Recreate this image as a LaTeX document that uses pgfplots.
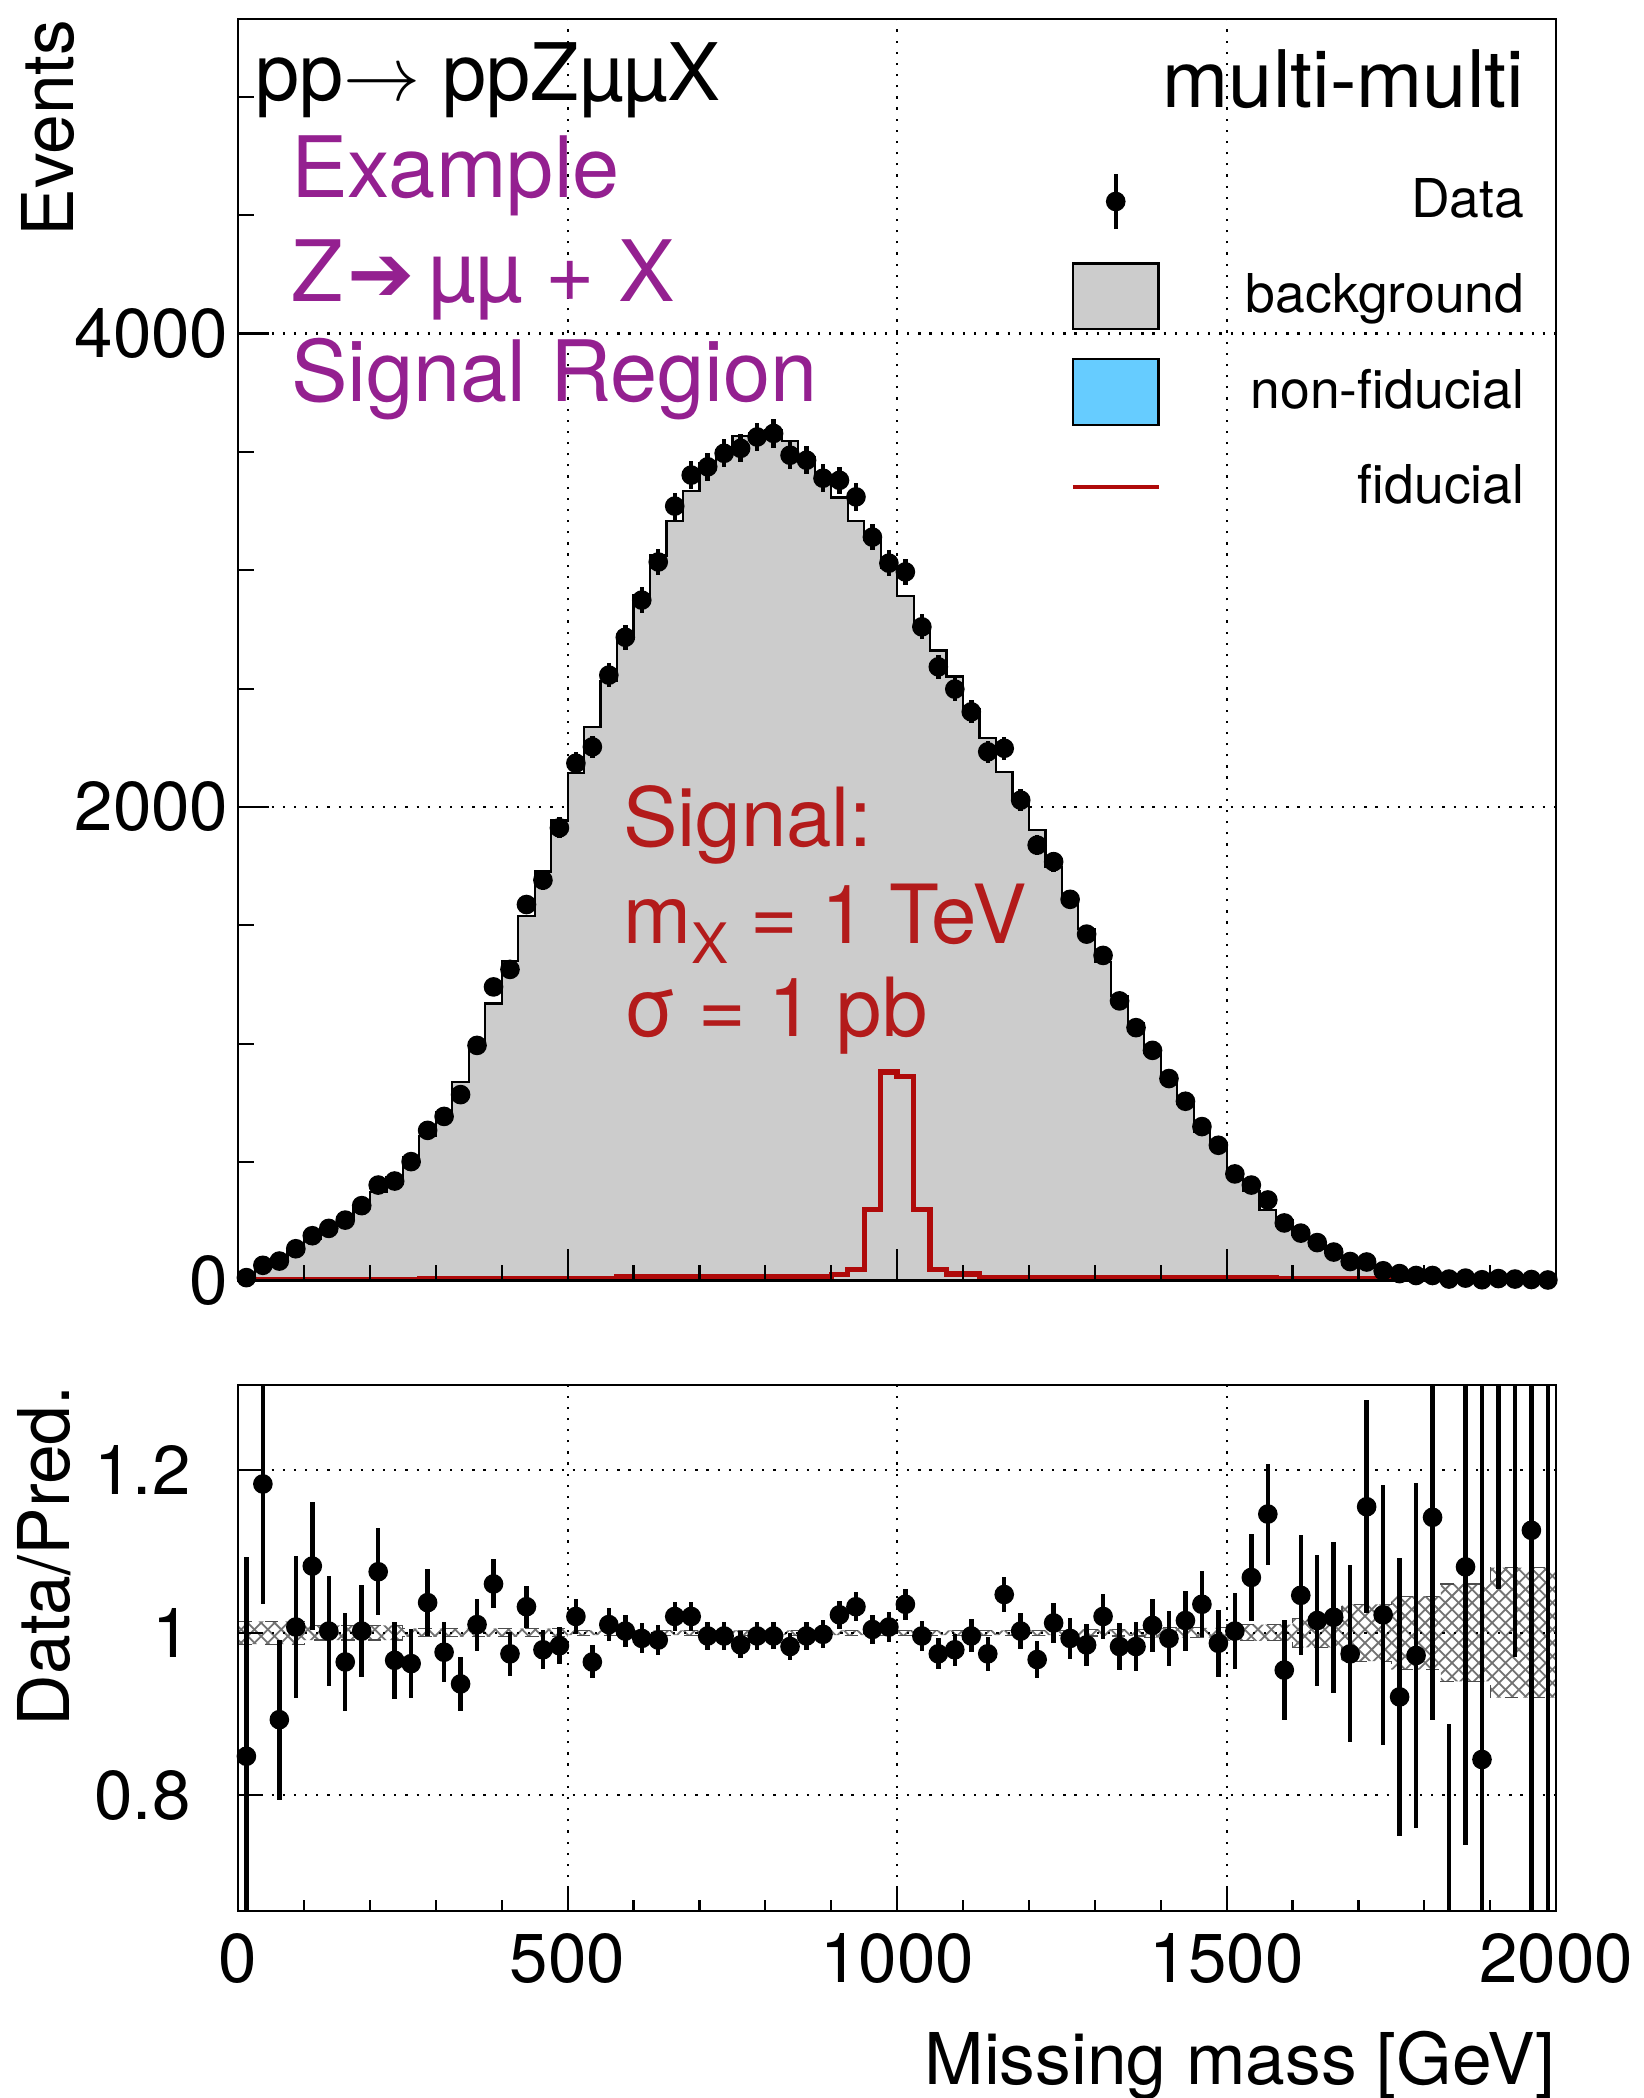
\documentclass[border=0pt]{standalone}
\usepackage{fontspec}
\setmainfont{TeX Gyre Heros}
\newfontfamily\dejavu{DejaVu Sans}
\usepackage{pgfplots}
\pgfplotsset{compat=1.18}
\usepackage{pgfplotstable}
\usepgfplotslibrary{fillbetween}
\usetikzlibrary{patterns}

\definecolor{bggray}{RGB}{204,204,204}
\definecolor{nfblue}{RGB}{102,204,255}
\definecolor{fidred}{RGB}{175,10,10}
\definecolor{sigred}{RGB}{179,27,27}
\definecolor{txtpurple}{RGB}{148,32,144}
\newcommand{\fs}[1]{\fontsize{#1}{#1}\selectfont}

% lo = lower bin edge, c = bin centre, n = data, b = background,
% r = data/pred, u = rel. MC uncertainty, s = fiducial signal, nf = non-fiducial
\pgfplotstableread{
lo c n b r u s nf
0 12.5 12 14.1 0.848 0.014 3 0
25 37.5 64 54.1 1.183 0.014 3 0
50 62.5 82 91.8 0.893 0.014 3 0
75 87.5 134 133.1 1.007 0.014 3 0
100 112.5 189 174.7 1.082 0.009 3 0
125 137.5 220 219.6 1.002 0.009 3 0
150 162.5 255 264.5 0.964 0.009 3 0
175 187.5 316 315.4 1.002 0.009 3 0
200 212.5 403 374.9 1.075 0.009 3 0
225 237.5 420 434.8 0.966 0.009 3 0
250 262.5 502 521.8 0.962 0.005 3 0
275 287.5 634 611.4 1.037 0.005 6 0
300 312.5 693 710.0 0.976 0.005 6 0
325 337.5 785 837.8 0.937 0.005 6 0
350 362.5 993 983.2 1.010 0.005 6 0
375 387.5 1240 1169.8 1.060 0.005 6 0
400 412.5 1314 1349.1 0.974 0.005 6 0
425 437.5 1588 1538.8 1.032 0.005 6 0
450 462.5 1691 1727.3 0.979 0.005 6 0
475 487.5 1912 1943.1 0.984 0.005 6 0
500 512.5 2185 2142.2 1.020 0.003 6 0
525 537.5 2254 2338.2 0.964 0.003 6 0
550 562.5 2557 2531.7 1.010 0.003 6 0
575 587.5 2717 2711.6 1.002 0.003 15 3
600 612.5 2874 2894.3 0.993 0.003 15 3
625 637.5 3035 3062.6 0.991 0.003 15 3
650 662.5 3271 3206.9 1.020 0.003 15 3
675 687.5 3402 3335.3 1.020 0.003 15 3
700 712.5 3437 3450.8 0.996 0.003 15 3
725 737.5 3494 3508.0 0.996 0.003 15 3
750 762.5 3515 3568.5 0.985 0.003 15 3
775 787.5 3563 3577.3 0.996 0.003 15 3
800 812.5 3578 3592.4 0.996 0.003 15 3
825 837.5 3486 3546.3 0.983 0.003 15 3
850 862.5 3465 3478.9 0.996 0.003 15 3
875 887.5 3389 3395.8 0.998 0.003 15 3
900 912.5 3380 3307.2 1.022 0.003 25 0
925 937.5 3310 3207.4 1.032 0.003 45 0
950 962.5 3140 3127.5 1.004 0.003 300 0
975 987.5 3030 3008.9 1.007 0.003 880 0
1000 1012.5 2993 2891.8 1.035 0.003 862 0
1025 1037.5 2761 2772.1 0.996 0.003 300 0
1050 1062.5 2592 2661.2 0.974 0.003 45 0
1075 1087.5 2498 2551.6 0.979 0.003 28 0
1100 1112.5 2402 2411.6 0.996 0.003 28 0
1125 1137.5 2233 2292.6 0.974 0.003 13 0
1150 1162.5 2248 2147.1 1.047 0.003 13 0
1175 1187.5 2029 2024.9 1.002 0.003 13 0
1200 1212.5 1839 1901.8 0.967 0.003 13 0
1225 1237.5 1769 1748.0 1.012 0.003 13 0
1250 1262.5 1610 1621.3 0.993 0.003 13 0
1275 1287.5 1463 1485.3 0.985 0.004 13 0
1300 1312.5 1373 1346.1 1.020 0.004 13 0
1325 1337.5 1181 1201.4 0.983 0.004 13 0
1350 1362.5 1068 1086.5 0.983 0.004 13 0
1375 1387.5 972 963.3 1.009 0.006 13 0
1400 1412.5 853 859.0 0.993 0.006 13 0
1425 1437.5 757 745.8 1.015 0.006 13 0
1450 1462.5 650 628.0 1.035 0.006 13 0
1475 1487.5 571 578.5 0.987 0.006 13 0
1500 1512.5 450 449.1 1.002 0.010 13 0
1525 1537.5 403 377.3 1.068 0.010 13 0
1550 1562.5 340 296.7 1.146 0.010 13 0
1575 1587.5 243 254.7 0.954 0.010 6 0
1600 1612.5 200 191.2 1.046 0.018 6 0
1625 1637.5 160 157.6 1.015 0.018 6 0
1650 1662.5 120 117.8 1.019 0.018 6 0
1675 1687.5 80 82.1 0.974 0.035 6 0
1700 1712.5 78 67.5 1.155 0.035 6 0
1725 1737.5 41 40.1 1.022 0.035 6 0
1750 1762.5 29 31.5 0.921 0.045 6 0
1775 1787.5 21 21.6 0.972 0.045 0 0
1800 1812.5 21 18.4 1.142 0.045 0 0
1825 1837.5 6 9.5 0.630 0.060 0 0
1850 1862.5 10 9.25 1.081 0.060 0 0
1875 1887.5 3 3.55 0.844 0.060 0 0
1900 1912.5 8 4.9 1.630 0.080 0 0
1925 1937.5 6 3.66 1.640 0.080 0 0
1950 1962.5 4 3.55 1.126 0.080 0 0
1975 1987.5 2 1.33 1.500 0.080 0 0
2000 nan nan 1.33 nan 0.080 0 0
}\hist

\begin{document}
\begin{tikzpicture}
% ---------------- main panel ----------------
\begin{axis}[
    at={(0pt,0pt)}, anchor=south west,
    scale only axis, width=295.5pt, height=282.9pt,
    xmin=0, xmax=2000, ymin=0, ymax=5330,
    xtick={0,500,1000,1500,2000}, xticklabels={}, minor x tick num=4,
    ytick={0,2000,4000}, yticklabels={0,2000,4000},
    minor ytick={500,1000,1500,2500,3000,3500,4500,5000},
    xtick pos=left, ytick pos=left, tick align=inside,
    major tick length=7pt, minor tick length=3.5pt,
    axis line style={line width=0.5pt}, tick style={black, line width=0.5pt},
    axis on top,
    /pgf/number format/assume math mode=true,
    yticklabel style={font=\fs{15.5}, inner sep=0pt, xshift=-2pt},
    legend style={at={(0.9766,0.8818)}, anchor=north east, draw=none, fill=none,
        font=\fs{12}, row sep=6.3pt, column sep=19pt, inner sep=0pt,
        nodes={inner sep=0pt}},
    legend cell align=right,
]
% grid below the histograms
\draw[dotted, line width=0.5pt] (axis cs:500,0) -- (axis cs:500,5330);
\draw[dotted, line width=0.5pt] (axis cs:1000,0) -- (axis cs:1000,5330);
\draw[dotted, line width=0.5pt] (axis cs:1500,0) -- (axis cs:1500,5330);
\draw[dotted, line width=0.5pt] (axis cs:0,2000) -- (axis cs:2000,2000);
\draw[dotted, line width=0.5pt] (axis cs:0,4000) -- (axis cs:2000,4000);

\addlegendimage{legend image code/.code={
    \path[draw=none, fill=none] (0pt,-7.35pt) rectangle (19.2pt,7.35pt);
    \draw[black, line width=1pt] (9.6pt,-6.2pt) -- (9.6pt,6.2pt);
    \fill[black] (9.6pt,0pt) circle (2pt);}}
\addlegendentry{Data}
\addlegendimage{legend image code/.code={
    \draw[fill=bggray, line width=0.5pt] (0pt,-7.35pt) rectangle (19.2pt,7.35pt);}}
\addlegendentry{background}
\addlegendimage{legend image code/.code={
    \draw[fill=nfblue, line width=0.5pt] (0pt,-7.35pt) rectangle (19.2pt,7.35pt);}}
\addlegendentry{non-fiducial}
\addlegendimage{legend image code/.code={
    \path[draw=none, fill=none] (0pt,-7.35pt) rectangle (19.2pt,7.35pt);
    \draw[fidred, line width=1pt] (0pt,0pt) -- (19.2pt,0pt);}}
\addlegendentry{fiducial}

\addplot[const plot, fill=bggray, draw=black, line width=0.5pt, forget plot]
    table[x=lo, y=b] {\hist} \closedcycle;
\addplot[const plot, fill=nfblue, draw=black, line width=0.4pt, forget plot]
    table[x=lo, y=nf] {\hist} \closedcycle;
\addplot[const plot, draw=fidred, line width=1.2pt, forget plot]
    table[x=lo, y=s] {\hist};
\addplot[only marks, mark=*, mark size=2pt, black, forget plot,
    error bars/.cd, y dir=both, y explicit, error mark=none,
    error bar style={line width=1pt}]
    table[x=c, y=n, y error expr=sqrt(\thisrow{n})] {\hist};
\end{axis}

% ---------------- ratio panel ----------------
\begin{axis}[
    at={(0pt,-23.4pt)}, anchor=north west,
    scale only axis, width=295.5pt, height=117.9pt,
    xmin=0, xmax=2000, ymin=0.658, ymax=1.305,
    xtick={0,500,1000,1500,2000}, xticklabels={0,500,1000,1500,2000},
    minor x tick num=4,
    ytick={0.8,1,1.2}, yticklabels={0.8,1,1.2},
    xtick pos=left, ytick pos=left, tick align=inside,
    major tick length=5pt, minor tick length=2.5pt,
    axis line style={line width=0.5pt}, tick style={black, line width=0.5pt},
    axis on top,
    /pgf/number format/assume math mode=true,
    yticklabel style={font=\fs{15.5}, inner sep=0pt, xshift=-10.5pt},
    xticklabel style={font=\fs{15.5}, inner sep=0pt, yshift=-5pt},
]
\draw[dotted, line width=0.5pt] (axis cs:500,0.658) -- (axis cs:500,1.305);
\draw[dotted, line width=0.5pt] (axis cs:1000,0.658) -- (axis cs:1000,1.305);
\draw[dotted, line width=0.5pt] (axis cs:1500,0.658) -- (axis cs:1500,1.305);
\draw[dotted, line width=0.5pt] (axis cs:0,0.8) -- (axis cs:2000,0.8);
\draw[dotted, line width=0.5pt] (axis cs:0,1) -- (axis cs:2000,1);
\draw[dotted, line width=0.5pt] (axis cs:0,1.2) -- (axis cs:2000,1.2);

% MC stat. band
\addplot[const plot, name path=up, black!70, line width=0.25pt, dashed, forget plot]
    table[x=lo, y expr=1+\thisrow{u}] {\hist};
\addplot[const plot, name path=dn, black!70, line width=0.25pt, dashed, forget plot]
    table[x=lo, y expr=1-\thisrow{u}] {\hist};
\addplot[pattern=crosshatch, pattern color=black!55, forget plot]
    fill between[of=up and dn];

\addplot[only marks, mark=*, mark size=2pt, black, forget plot,
    error bars/.cd, y dir=both, y explicit, error mark=none,
    error bar style={line width=1pt}]
    table[x=c, y=r, y error expr=\thisrow{r}/sqrt(\thisrow{n})] {\hist};
\end{axis}

% ---------------- texts ----------------
\node[anchor=base west, inner sep=0pt, font=\fs{17.8}] at (3.6pt,264.6pt)
    {pp$\rightarrow$ ppZµµX};
\node[anchor=base east, inner sep=0pt, font=\fs{17.8}] at (288.6pt,263.1pt)
    {multi-multi};
\node[anchor=base west, inner sep=0pt, font=\fs{19}, text=txtpurple] at (11.7pt,242.7pt)
    {Example};
\node[anchor=base west, inner sep=0pt, font=\fs{19}, text=txtpurple] at (11.7pt,219.6pt)
    {Z\kern1pt{\dejavu\fs{18}➔}\kern3pt µµ + X};
\node[anchor=base west, inner sep=0pt, font=\fs{19}, text=txtpurple] at (11.7pt,197.1pt)
    {Signal Region};
\node[anchor=base west, inner sep=0pt, font=\fs{18.3}, text=sigred] at (86.1pt,97.2pt)
    {Signal:};
\node[anchor=base west, inner sep=0pt, font=\fs{18.3}, text=sigred] at (86.1pt,75.6pt)
    {m\raisebox{-0.25em}{\fs{12.5}X} = 1 TeV};
\node[anchor=base west, inner sep=0pt, font=\fs{18.3}, text=sigred] at (86.1pt,54.6pt)
    {σ = 1 pb};
\node[anchor=base east, inner sep=0pt, font=\fs{16}] at (295.5pt,-180.3pt)
    {Missing mass [GeV]};
\node[anchor=base east, rotate=90, inner sep=0pt, font=\fs{16}] at (-36.9pt,282.9pt)
    {Events};
\node[anchor=base east, rotate=90, inner sep=0pt, font=\fs{16}] at (-37.8pt,-23.4pt)
    {Data/Pred.};

\pgfresetboundingbox
\path[use as bounding box] (-53.4pt,-183.3pt) rectangle (315pt,287.1pt);
\end{tikzpicture}
\end{document}
